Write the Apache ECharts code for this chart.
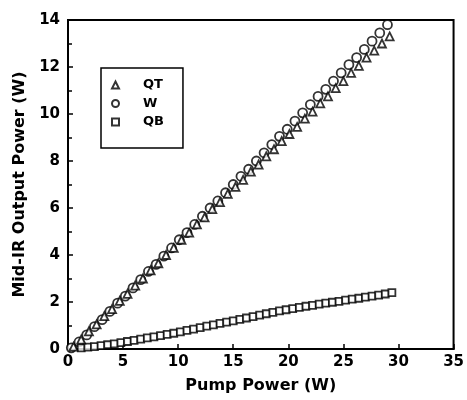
<!DOCTYPE html>
<html>
<head>
<meta charset="utf-8">
<script src="https://cdn.jsdelivr.net/npm/echarts@6/dist/echarts.min.js"></script>
<style>html,body{margin:0;padding:0;background:#fff}#c{width:467px;height:400px}</style>
</head>
<body>
<div id="c"></div>
<script>
// Data
var xTitle = 'Pump Power (W)';
var yTitle = 'Mid-IR Output Power (W)';
var seriesNames = ['QT', 'W', 'QB'];

var qtX = [0.5,1.2,1.9,2.6,3.3,4.0,4.7,5.4,6.1,6.8,7.5,8.2,8.9,9.6,10.3,11.0,11.7,12.4,13.1,13.8,14.5,15.2,15.9,16.6,17.3,18.0,18.7,19.4,20.1,20.8,21.5,22.2,22.9,23.6,24.3,25.0,25.7,26.4,27.1,27.8,28.5,29.2];
var qtY = [0.1,0.4,0.75,1.05,1.4,1.7,2.05,2.35,2.7,3.0,3.35,3.65,4.0,4.3,4.65,4.95,5.3,5.6,5.95,6.25,6.6,6.9,7.2,7.55,7.85,8.2,8.5,8.85,9.15,9.45,9.8,10.1,10.45,10.75,11.1,11.4,11.75,12.05,12.4,12.7,13.0,13.3];

var wX = [0.3,1.0,1.7,2.4,3.1,3.8,4.5,5.2,5.9,6.6,7.3,8.0,8.7,9.4,10.1,10.8,11.5,12.2,12.9,13.6,14.3,15.0,15.7,16.4,17.1,17.8,18.5,19.2,19.9,20.6,21.3,22.0,22.7,23.4,24.1,24.8,25.5,26.2,26.9,27.6,28.3,29.0];
var wY = [0.05,0.3,0.6,0.95,1.25,1.6,1.95,2.25,2.6,2.95,3.3,3.6,3.95,4.3,4.65,4.95,5.3,5.65,6.0,6.3,6.65,7.0,7.35,7.65,8.0,8.35,8.7,9.05,9.35,9.7,10.05,10.4,10.75,11.05,11.4,11.75,12.1,12.4,12.75,13.1,13.45,13.8];

var qbX = [1.2,1.8,2.4,3.0,3.6,4.2,4.8,5.4,6.0,6.6,7.2,7.8,8.4,9.0,9.6,10.2,10.8,11.4,12.0,12.6,13.2,13.8,14.4,15.0,15.6,16.2,16.8,17.4,18.0,18.6,19.2,19.8,20.4,21.0,21.6,22.2,22.8,23.4,24.0,24.6,25.2,25.8,26.4,27.0,27.6,28.2,28.8,29.4];
var qbY = [0.05,0.08,0.1,0.14,0.18,0.22,0.27,0.32,0.37,0.42,0.47,0.52,0.57,0.62,0.67,0.73,0.79,0.85,0.91,0.97,1.03,1.09,1.14,1.2,1.26,1.32,1.38,1.44,1.5,1.56,1.62,1.67,1.72,1.77,1.82,1.86,1.91,1.95,1.99,2.03,2.08,2.12,2.16,2.21,2.25,2.29,2.34,2.4];

var xTicks = {min: 0, max: 35, interval: 5};
var yTicks = {min: 0, max: 14, interval: 2};

function pairs(xs, ys) { return xs.map(function (x, i) { return [x, ys[i]]; }); }

var font = 'DejaVu Sans, Liberation Sans, Arial, sans-serif';
var chart = echarts.init(document.getElementById('c'), null, {renderer: 'canvas'});
chart.setOption({
  animation: false,
  backgroundColor: '#fff',
  grid: {left: 68, right: 12, top: 20, bottom: 51, show: true, borderColor: '#000', borderWidth: 2, backgroundColor: 'transparent'},
  legend: {
    orient: 'vertical', left: 101, top: 68,
    padding: [10, 19, 19, 10], itemGap: 4.5, itemWidth: 7, itemHeight: 7,
    borderColor: '#000', borderWidth: 1.5, backgroundColor: '#fff',
    textStyle: {fontFamily: font, fontWeight: 'bold', fontSize: 13, lineHeight: 14, color: '#000', padding: [0, 0, 0, 19]},
    data: seriesNames.map(function (n) { return {name: n}; })
  },
  xAxis: {
    type: 'value', min: xTicks.min, max: xTicks.max, interval: xTicks.interval,
    name: xTitle, nameLocation: 'middle', nameGap: 29,
    nameTextStyle: {fontFamily: font, fontWeight: 'bold', fontSize: 16, color: '#000'},
    axisLine: {show: true, lineStyle: {color: '#000', width: 2}},
    axisTick: {show: true, inside: true, length: 5, lineStyle: {color: '#000', width: 1.5}},
    axisLabel: {fontFamily: font, fontWeight: 'bold', fontSize: 15, color: '#000', margin: 6},
    splitLine: {show: false}
  },
  yAxis: {
    type: 'value', min: yTicks.min, max: yTicks.max, interval: yTicks.interval,
    name: yTitle, nameLocation: 'middle', nameGap: 40,
    nameTextStyle: {fontFamily: font, fontWeight: 'bold', fontSize: 16, color: '#000'},
    axisLine: {show: true, lineStyle: {color: '#000', width: 2}},
    axisTick: {show: true, inside: true, length: 5, lineStyle: {color: '#000', width: 1.5}},
    minorTick: {show: true, splitNumber: 2, length: 4, lineStyle: {color: '#000', width: 1.5}},
    axisLabel: {fontFamily: font, fontWeight: 'bold', fontSize: 15, color: '#000', margin: 8},
    splitLine: {show: false}
  },
  series: [
    {name: seriesNames[0], type: 'scatter', symbol: 'triangle', symbolSize: 8,
     itemStyle: {color: '#fff', borderColor: '#000', borderWidth: 1.8}, data: pairs(qtX, qtY), z: 3},
    {name: seriesNames[1], type: 'scatter', symbol: 'circle', symbolSize: 9,
     itemStyle: {color: '#fff', borderColor: '#000', borderWidth: 1.8}, data: pairs(wX, wY), z: 2},
    {name: seriesNames[2], type: 'scatter', symbol: 'rect', symbolSize: 7,
     itemStyle: {color: '#fff', borderColor: '#000', borderWidth: 1.8}, data: pairs(qbX, qbY), z: 2}
  ]
});
</script>
</body>
</html>
